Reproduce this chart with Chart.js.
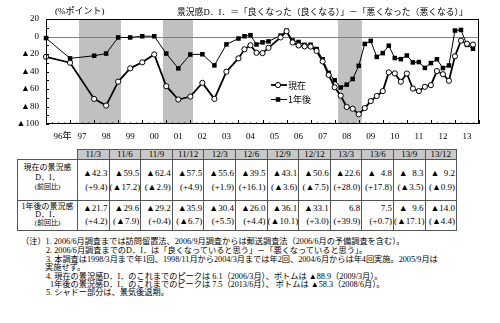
<!DOCTYPE html>
<html lang="ja">
<head>
<meta charset="utf-8">
<title>景況感D.I.の推移</title>
<script src="https://cdn.jsdelivr.net/npm/chart.js@4.4.1/dist/chart.umd.min.js"></script>
<style>
  html, body { margin: 0; padding: 0; background: #fff; }
  body {
    width: 500px; height: 323px; position: relative; overflow: hidden; color: #000;
    font-family: 'Liberation Serif', 'Noto Sans CJK JP', serif;
  }
  #chartBox { position: absolute; left: 0; top: 0; width: 500px; height: 145px; }
  .txt { position: absolute; white-space: pre; line-height: 9px; }
  .title { font-size: 8.8px; }
  .note { font-size: 8.2px; }

  #diTable {
    position: absolute; left: 17px; top: 149px;
    border-collapse: collapse; table-layout: fixed; width: 440px;
    font-size: 9px;
  }
  #diTable th, #diTable td { border: 1px solid #555; padding: 0; overflow: hidden; }
  #diTable th {
    background: #c8c8c8; font-weight: normal; height: 9px; line-height: 9px;
    text-align: center;
  }
  #diTable th.blank { background: none; border-top: none; border-left: none; }
  #diTable td.head { text-align: center; vertical-align: top; font-size: 8px; }
  #diTable td.head span { display: block; }
  #diTable td.head .sub { font-size: 7px; }
  #diTable td.val { text-align: right; vertical-align: top; white-space: pre; padding-right: 1px; }
  #diTable td.val span { display: block; }
  #diTable tr.r1 td { height: 34px; }
  #diTable tr.r2 td { height: 27px; }
  #diTable tr.r1 td.head span { line-height: 10px; }
  #diTable tr.r1 td.head { padding-top: 3px; }
  #diTable tr.r1 td.head .sub { line-height: 8px; }
  #diTable tr.r2 td.head span { line-height: 8.3px; }
  #diTable tr.r2 td.head { padding-top: 1.5px; }
  #diTable tr.r1 td.val span { line-height: 14px; }
  #diTable tr.r1 td.val { padding-top: 6px; }
  #diTable tr.r2 td.val span { line-height: 13.4px; }
  #diTable tr.r2 td.val { padding-top: 0.5px; }
</style>
</head>
<body>

<div id="chartBox"><canvas id="chart"></canvas></div>

<div class="txt title" style="left:55px; top:7px; font-size:9px;">(%ポイント)</div>
<div class="txt title" style="left:177px; top:7.5px;">景況感D．I．＝「良くなった（良くなる）」－「悪くなった（悪くなる）」</div>

<table id="diTable"></table>

<div class="txt note" style="left:21px; top:237px;">（注）1. 2006/6月調査までは訪問留置法、2006/9月調査からは郵送調査法（2006/6月の予備調査を含む）。</div>
<div class="txt note" style="left:46px; top:246px;">2. 2006/6月調査までのD．I．は「良くなっていると思う」－「悪くなっていると思う」。</div>
<div class="txt note" style="left:46px; top:254.8px;">3. 本調査は1998/3月まで年1回、1998/11月から2004/3月までは年2回、2004/6月からは年4回実施。2005/9月は</div>
<div class="txt note" style="left:45px; top:262.8px;">実施せず。</div>
<div class="txt note" style="left:46px; top:271.5px;">4. 現在の景況感D．I．のこれまでのピークは 6.1（2006/3月）、ボトムは ▲88.9（2009/3月）。</div>
<div class="txt note" style="left:50px; top:279.5px;">1年後の景況感D．I．のこれまでのピークは 7.5（2013/6月）、 ボトムは ▲58.3（2008/6月）。</div>
<div class="txt note" style="left:46px; top:287.8px;">5. シャドー部分は、景気後退期。</div>

<script>
// ----------------------------
// データ
// ----------------------------

// 調査時点（横軸：各年3月調査 = 年の整数値）
const surveyTime = [
  1996, 1997, 1998,
  1998.5, 1999, 1999.5, 2000, 2000.5, 2001, 2001.5, 2002, 2002.5, 2003, 2003.5, 2004,
  2004.25, 2004.5, 2004.75, 2005, 2005.25, 2005.75,          // 2005/9月は実施せず
  2006, 2006.25, 2006.5, 2006.75, 2007, 2007.25, 2007.5, 2007.75,
  2008, 2008.25, 2008.5, 2008.75, 2009, 2009.25, 2009.5, 2009.75,
  2010, 2010.25, 2010.5, 2010.75,
  2011, 2011.25, 2011.5, 2011.75, 2012, 2012.25, 2012.5, 2012.75,
  2013, 2013.25, 2013.5, 2013.75
];

// 2010/12月までの景況感D.I.
const nowEarly = [
  -23.2, -30.0, -71.3,
  -78.9, -51.6, -36.4, -29.5, -20.5, -56.8, -72.0, -68.6, -53.0, -71.3, -40.2, -25.0,
  -14.6, -10.0, -18.6, -19.0, -13.0, -1.0,
  6.1, -6.8, -10.2, -11.3, -11.5, -16.5, -28.5, -44.0,
  -58.0, -67.7, -80.5, -82.5, -88.9, -81.8, -73.8, -68.0,
  -62.4, -41.0, -42.2, -51.7
];
const futEarly = [
  -1.8, -25.0, -22.0,
  -19.5, -1.1, -1.1, 0.3, 0.3, -19.5, -36.4, -20.6, -20.3, -33.0, -9.0, -2.3,
  0.3, 1.5, -9.1, -6.7, -5.6, 1.0,
  6.5, -4.5, -6.3, -9.5, -9.4, -14.3, -26.0, -41.5,
  -50.0, -58.3, -55.0, -48.5, -33.5, -8.5, -5.0, -23.3,
  -19.0, -10.5, -24.6, -25.9
];

// 表の値（2011/3月〜2013/12月）
const tableCols = ['11/3', '11/6', '11/9', '11/12', '12/3', '12/6', '12/9', '12/12', '13/3', '13/6', '13/9', '13/12'];
const nowDI  = [-42.3, -59.5, -62.4, -57.5, -55.6, -39.5, -43.1, -50.6, -22.6, -4.8, -8.3, -9.2];
const nowChg = [9.4, -17.2, -2.9, 4.9, 1.9, 16.1, -3.6, -7.5, 28.0, 17.8, -3.5, -0.9];
const futDI  = [-21.7, -29.6, -29.2, -35.9, -30.4, -26.0, -36.1, -33.1, 6.8, 7.5, -9.6, -14.0];
const futChg = [4.2, -7.9, 0.4, -6.7, 5.5, 4.4, -10.1, 3.0, 39.9, 0.7, -17.1, -4.4];

// 景気後退期（シャドー）
const recessionStart = [1997.37, 2000.86, 2008.14];
const recessionEnd   = [1999.12, 2002.11, 2009.13];

// 横軸ラベル
const yearTicks  = [1996, 1997, 1998, 1999, 2000, 2001, 2002, 2003, 2004, 2005, 2006, 2007, 2008, 2009, 2010, 2011, 2012, 2013];
const yearLabels = ['96年', '97', '98', '99', '00', '01', '02', '03', '04', '05', '06', '07', '08', '09', '10', '11', '12', '13'];

const nowSeries = nowEarly.concat(nowDI);
const futSeries = futEarly.concat(futDI);

// ----------------------------
// 表
// ----------------------------

function fmtDI(v) {
  if (v >= 0) return v.toFixed(1);
  const a = Math.abs(v);
  return '▲' + (a < 10 ? '  ' : '') + a.toFixed(1);
}
function fmtChg(v) {
  return '(' + (v < 0 ? '▲' : '+') + Math.abs(v).toFixed(1) + ')';
}

function buildTable() {
  const t = document.getElementById('diTable');
  let html = '<colgroup><col style="width:60px">' +
    tableCols.map(() => '<col style="width:31.6px">').join('') + '</colgroup>';
  html += '<tr><th class="blank"></th>' + tableCols.map(c => `<th>${c}</th>`).join('') + '</tr>';
  const rows = [
    { cls: 'r1', head: '現在の景況感', di: nowDI, chg: nowChg },
    { cls: 'r2', head: '1年後の景況感', di: futDI, chg: futChg }
  ];
  rows.forEach(r => {
    html += `<tr class="${r.cls}"><td class="head"><span>${r.head}</span><span>D．I．</span><span class="sub">(前回比)</span></td>`;
    html += r.di.map((v, i) => `<td class="val"><span>${fmtDI(v)}</span><span>${fmtChg(r.chg[i])}</span></td>`).join('');
    html += '</tr>';
  });
  t.innerHTML = html;
}
buildTable();

// ----------------------------
// グラフ
// ----------------------------

const fontFamily = "'Liberation Serif', 'Noto Sans CJK JP', serif";
const tickFont = { family: fontFamily, size: 9 };

// シャドー・0線・枠・目盛り・年ラベル・凡例
const framePlugin = {
  id: 'frame',
  beforeDatasetsDraw(chart) {
    const { ctx, chartArea: a, scales: { x, y } } = chart;
    ctx.save();
    ctx.fillStyle = '#c0c0c0';
    recessionStart.forEach((s, i) => {
      const x0 = x.getPixelForValue(s);
      const x1 = x.getPixelForValue(recessionEnd[i]);
      ctx.fillRect(x0, a.top, x1 - x0, a.bottom - a.top);
    });
    const y0 = Math.round(y.getPixelForValue(0)) + 0.5;
    ctx.strokeStyle = '#808080';
    ctx.lineWidth = 1;
    ctx.beginPath();
    ctx.moveTo(a.left, y0);
    ctx.lineTo(a.right, y0);
    ctx.stroke();
    ctx.restore();
  },
  afterDatasetsDraw(chart, args, opts) {
    const { ctx, chartArea: a, scales: { x, y } } = chart;
    ctx.save();
    ctx.strokeStyle = '#000';
    ctx.lineWidth = 1;
    ctx.strokeRect(a.left + 0.5, a.top + 0.5, a.right - a.left - 1, a.bottom - a.top - 1);

    // 内向きの目盛り
    ctx.beginPath();
    for (let v = y.min; v <= y.max; v += 10) {
      const py = Math.round(y.getPixelForValue(v)) + 0.5;
      ctx.moveTo(a.left, py);
      ctx.lineTo(a.left + 3, py);
    }
    for (let t = x.min; t <= x.max; t += 0.25) {
      const px = Math.round(x.getPixelForValue(t)) + 0.5;
      const len = Number.isInteger(t) ? 4 : 1.5;
      ctx.moveTo(px, a.bottom);
      ctx.lineTo(px, a.bottom - len);
    }
    ctx.stroke();

    // 年ラベル（数字部分を年の中央に）
    ctx.fillStyle = '#000';
    ctx.font = `9px ${fontFamily}`;
    ctx.textBaseline = 'middle';
    ctx.textAlign = 'left';
    yearTicks.forEach((yr, i) => {
      const label = yearLabels[i];
      const w = ctx.measureText(label.replace('年', '')).width;
      ctx.fillText(label, x.getPixelForValue(yr + 0.5) - w / 2, a.bottom + 13);
    });

    // 凡例
    chart.data.datasets.forEach((ds, i) => {
      const ly = opts.legendY + i * opts.legendGap;
      ctx.strokeStyle = ds.borderColor;
      ctx.lineWidth = ds.borderWidth;
      ctx.beginPath();
      ctx.moveTo(opts.legendX, ly);
      ctx.lineTo(opts.legendX + 16, ly);
      ctx.stroke();
      ctx.fillStyle = ds.pointBackgroundColor;
      ctx.strokeStyle = ds.pointBorderColor;
      ctx.lineWidth = ds.pointBorderWidth;
      Chart.helpers.drawPoint(ctx, {
        pointStyle: ds.pointStyle, radius: ds.pointRadius, rotation: 0, borderWidth: ds.pointBorderWidth
      }, opts.legendX + 7, ly);
      ctx.fillStyle = '#000';
      ctx.font = "9px 'Noto Sans CJK JP', 'Liberation Serif', serif";
      ctx.fillText(ds.label, opts.legendX + 17, ly + 0.5);
    });
    ctx.restore();
  }
};

const ctx = document.getElementById('chart').getContext('2d');

new Chart(ctx, {
  type: 'line',
  data: {
    datasets: [
      {
        label: '現在',
        data: surveyTime.map((t, i) => ({ x: t, y: nowSeries[i] })),
        borderColor: '#000',
        borderWidth: 1.8,
        pointStyle: 'circle',
        pointRadius: 2.6,
        pointBorderWidth: 1,
        pointBackgroundColor: '#fff',
        pointBorderColor: '#000',
        tension: 0,
        clip: false,
        order: 1
      },
      {
        label: '1年後',
        data: surveyTime.map((t, i) => ({ x: t, y: futSeries[i] })),
        borderColor: '#000',
        borderWidth: 1,
        pointStyle: 'rect',
        pointRadius: 3.2,
        pointBorderWidth: 0,
        pointBackgroundColor: '#000',
        pointBorderColor: '#000',
        tension: 0,
        clip: false,
        order: 2
      }
    ]
  },
  options: {
    responsive: true,
    maintainAspectRatio: false,
    animation: false,
    layout: { padding: { top: 19, right: 21, left: 0, bottom: 0 } },
    plugins: {
      legend: { display: false },
      frame: { legendX: 271, legendY: 85, legendGap: 14.5 }
    },
    scales: {
      x: {
        type: 'linear',
        min: 1996,
        max: 2014,
        grid: { display: false, drawTicks: false },
        border: { display: false },
        ticks: { display: false },
        afterFit: s => { s.height = 21; }
      },
      y: {
        min: -100,
        max: 20,
        grid: { display: false, drawTicks: false },
        border: { display: false },
        afterFit: s => { s.width = 46; },
        ticks: {
          stepSize: 20,
          padding: 7,
          color: '#000',
          font: tickFont,
          callback: v => (v < 0 ? '▲' + Math.abs(v) : String(v))
        }
      }
    }
  },
  plugins: [framePlugin]
});
</script>
</body>
</html>
